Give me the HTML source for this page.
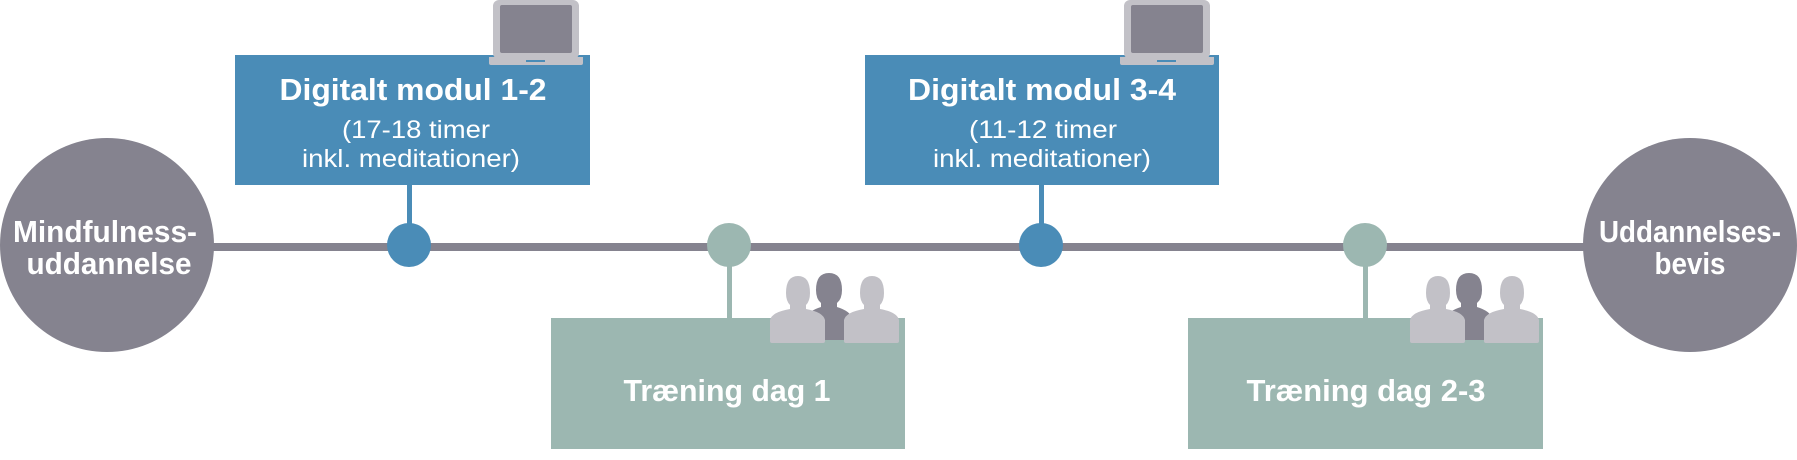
<!DOCTYPE html>
<html><head><meta charset="utf-8"><style>
html,body{margin:0;padding:0;background:#fff;}
svg{display:block}
text{font-family:"Liberation Sans",sans-serif;fill:#fff;text-anchor:middle}
.b{font-weight:bold;font-size:31px}
.s{font-size:25px}
</style></head><body>
<svg width="1797" height="460" viewBox="0 0 1797 460" xmlns="http://www.w3.org/2000/svg">
<defs>
<g id="lap">
<rect x="0" y="0" width="86" height="59" rx="6" fill="#c2c1c7"/>
<rect x="7" y="5" width="72" height="48" rx="2" fill="#85838f"/>
<path d="M-4 57 H90 V63 Q90 65 88 65 H-2 Q-4 65 -4 63Z" fill="#c2c1c7"/>
<rect x="33" y="60" width="19" height="2" fill="#4a8cb7"/>
</g>
<g id="ppl">
<path d="M59 3 Q72 3 72 20 Q72 29 67 33 L67 37 Q80 41 82 48 L82 70 H36 V48 Q38 41 51 37 L51 33 Q46 29 46 20 Q46 3 59 3Z" fill="#85838f"/>
<path d="M28 6 Q40 6 40 23 Q40 31 36 35 L36 39 Q53 42 55 50 L55 71 Q55 73 53 73 H2 Q0 73 0 71 V50 Q2 42 20 39 L20 35 Q16 31 16 23 Q16 6 28 6Z" fill="#c2c1c7"/>
<path d="M102 6 Q114 6 114 23 Q114 31 110 35 L110 39 Q127 42 129 50 L129 71 Q129 73 127 73 H76 Q74 73 74 71 V50 Q76 42 94 39 L94 35 Q90 31 90 23 Q90 6 102 6Z" fill="#c2c1c7"/>
</g>
</defs>
<rect x="213" y="243" width="1373" height="8" fill="#85838f"/>
<circle cx="107" cy="245" r="107" fill="#85838f"/>
<circle cx="1690" cy="245" r="107" fill="#85838f"/>
<text class="b" x="105" y="242" textLength="184" lengthAdjust="spacingAndGlyphs">Mindfulness-</text>
<text class="b" x="109" y="274" textLength="165" lengthAdjust="spacingAndGlyphs">uddannelse</text>
<text class="b" x="1690" y="242" textLength="182" lengthAdjust="spacingAndGlyphs">Uddannelses-</text>
<text class="b" x="1690" y="274" textLength="71" lengthAdjust="spacingAndGlyphs">bevis</text>

<rect x="235" y="55" width="355" height="130" fill="#4a8cb7"/>
<rect x="407" y="185" width="5" height="45" fill="#4a8cb7"/>
<circle cx="409" cy="245" r="22" fill="#4a8cb7"/>
<use href="#lap" x="493" y="0"/>
<text class="b" x="413" y="100" textLength="267" lengthAdjust="spacingAndGlyphs">Digitalt modul 1-2</text>
<text class="s" x="416" y="138" textLength="148" lengthAdjust="spacingAndGlyphs">(17-18 timer</text>
<text class="s" x="411" y="167" textLength="218" lengthAdjust="spacingAndGlyphs">inkl. meditationer)</text>

<rect x="865" y="55" width="354" height="130" fill="#4a8cb7"/>
<rect x="1039" y="185" width="5" height="45" fill="#4a8cb7"/>
<circle cx="1041" cy="245" r="22" fill="#4a8cb7"/>
<use href="#lap" x="1124" y="0"/>
<text class="b" x="1042" y="100" textLength="268" lengthAdjust="spacingAndGlyphs">Digitalt modul 3-4</text>
<text class="s" x="1043" y="138" textLength="148" lengthAdjust="spacingAndGlyphs">(11-12 timer</text>
<text class="s" x="1042" y="167" textLength="218" lengthAdjust="spacingAndGlyphs">inkl. meditationer)</text>

<circle cx="729" cy="245" r="22" fill="#9cb7b1"/>
<rect x="727" y="260" width="5" height="60" fill="#9cb7b1"/>
<rect x="551" y="318" width="354" height="131" fill="#9cb7b1"/>
<use href="#ppl" x="770" y="270"/>
<text class="b" x="727" y="401" textLength="207" lengthAdjust="spacingAndGlyphs">Træning dag 1</text>

<circle cx="1365" cy="245" r="22" fill="#9cb7b1"/>
<rect x="1363" y="260" width="5" height="60" fill="#9cb7b1"/>
<rect x="1188" y="318" width="355" height="131" fill="#9cb7b1"/>
<use href="#ppl" x="1410" y="270"/>
<text class="b" x="1366" y="401" textLength="239" lengthAdjust="spacingAndGlyphs">Træning dag 2-3</text>
</svg>
</body></html>
